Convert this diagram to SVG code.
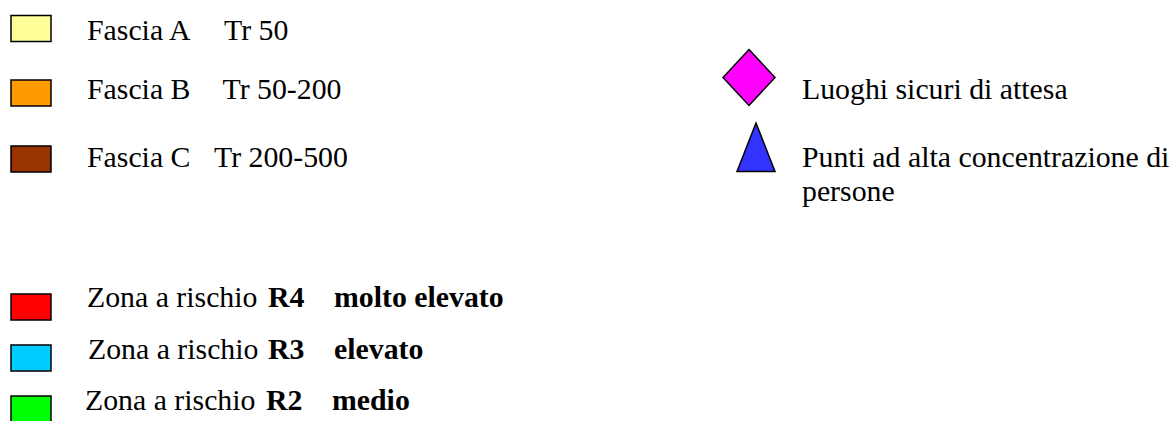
<svg xmlns="http://www.w3.org/2000/svg" width="1176" height="421" viewBox="0 0 1176 421">
<style>
text{font-family:'Liberation Serif',Tinos,'Times New Roman',Times,'DejaVu Serif',serif;font-size:29.8px;fill:#000}
.b{font-weight:bold}
.sw{stroke:#000;stroke-width:1.5}
</style>
<rect width="1176" height="421" fill="#fff"/>
<g font-family="Liberation Serif, Times New Roman, serif">
<g id="fascia-a">
<rect class="sw" x="11" y="15.5" width="40" height="26" fill="#FFFF99"/>
<text x="87" y="40">Fascia A</text><text x="224" y="40">Tr 50</text>
</g>
<g id="fascia-b">
<rect class="sw" x="11" y="80" width="40" height="26" fill="#FF9900"/>
<text x="87" y="99">Fascia B</text><text x="222.5" y="99">Tr 50-200</text>
</g>
<g id="fascia-c">
<rect class="sw" x="11" y="146" width="40" height="26" fill="#993300"/>
<text x="87" y="167">Fascia C</text><text x="214" y="167">Tr 200-500</text>
</g>
<g id="luoghi-sicuri">
<polygon class="sw" points="749,49.5 775,77.5 749,105.5 723,77.5" fill="#FF00FF"/>
<text x="802" y="99">Luoghi sicuri di attesa</text>
</g>
<g id="punti-concentrazione">
<polygon class="sw" points="756,123 775,171.5 737,171.5" fill="#3333FF"/>
<text x="802" y="167">Punti ad alta concentrazione di</text>
<text x="802" y="201">persone</text>
</g>
<g id="r4">
<rect class="sw" x="11" y="294" width="40" height="26" fill="#FF0000"/>
<text x="87" y="307">Zona a rischio <tspan class="b" x="268">R4</tspan><tspan class="b" x="334">molto elevato</tspan></text>
</g>
<g id="r3">
<rect class="sw" x="11" y="345" width="40" height="26" fill="#00CCFF"/>
<text x="88" y="359">Zona a rischio <tspan class="b" x="268">R3</tspan><tspan class="b" x="334">elevato</tspan></text>
</g>
<g id="r2">
<rect class="sw" x="11" y="396" width="40" height="30" fill="#00FF00"/>
<text x="85" y="410">Zona a rischio <tspan class="b" x="266">R2</tspan><tspan class="b" x="332">medio</tspan></text>
</g>
</g>
<g id="connectors"/>
</svg>
